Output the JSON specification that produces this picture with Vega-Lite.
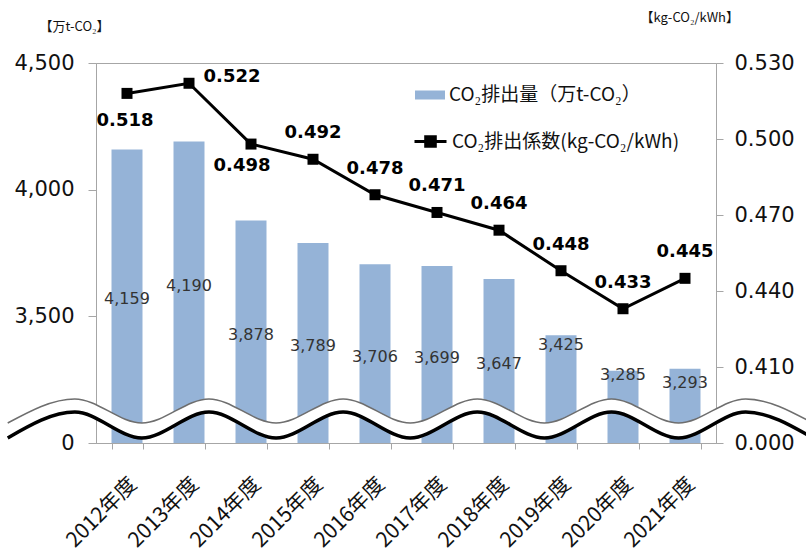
{
  "$schema": "https://vega.github.io/schema/vega-lite/v6.json",
  "width": 620,
  "height": 380,
  "autosize": {"type": "none"},
  "padding": {"left": 96, "top": 63, "right": 90, "bottom": 110},
  "background": "white",
  "config": {
    "view": {"stroke": "#a6a6a6", "strokeWidth": 1},
    "font": "DejaVu Sans",
    "axis": {"domainColor": "#a6a6a6", "tickColor": "#a6a6a6", "labelColor": "#111111", "grid": false, "titleColor": "#111111"}
  },
  "datasets": {
    "main": [
      {"year": "2012年度", "emission": 4159, "factor": 0.518},
      {"year": "2013年度", "emission": 4190, "factor": 0.522},
      {"year": "2014年度", "emission": 3878, "factor": 0.498},
      {"year": "2015年度", "emission": 3789, "factor": 0.492},
      {"year": "2016年度", "emission": 3706, "factor": 0.478},
      {"year": "2017年度", "emission": 3699, "factor": 0.471},
      {"year": "2018年度", "emission": 3647, "factor": 0.464},
      {"year": "2019年度", "emission": 3425, "factor": 0.448},
      {"year": "2020年度", "emission": 3285, "factor": 0.433},
      {"year": "2021年度", "emission": 3293, "factor": 0.445}
    ],
    "wave": [
      {"wx": -1.424, "top": 3079, "bottom": 3020},
      {"wx": -0.342, "top": 3174, "bottom": 3122},
      {"wx": 0.74, "top": 3079, "bottom": 3020},
      {"wx": 1.822, "top": 3174, "bottom": 3122},
      {"wx": 2.904, "top": 3079, "bottom": 3020},
      {"wx": 3.986, "top": 3174, "bottom": 3122},
      {"wx": 5.068, "top": 3079, "bottom": 3020},
      {"wx": 6.15, "top": 3174, "bottom": 3122},
      {"wx": 7.232, "top": 3079, "bottom": 3020},
      {"wx": 8.314, "top": 3174, "bottom": 3122},
      {"wx": 9.396, "top": 3079, "bottom": 3020},
      {"wx": 10.478, "top": 3174, "bottom": 3122},
      {"wx": 11.56, "top": 3079, "bottom": 3020}
    ]
  },
  "layer": [
    {
      "data": {"name": "main"},
      "encoding": {
        "x": {
          "field": "year", "type": "nominal", "sort": null,
          "scale": {"type": "band", "paddingInner": 0.5, "paddingOuter": 0.25},
          "axis": {"title": null, "labelAngle": -45, "labelAlign": "right", "labelBaseline": "middle", "labelFont": "Noto Sans CJK JP", "labelFontSize": 21, "tickBand": "extent", "tickSize": 6, "labelPadding": 32, "labelOffset": 6}
        }
      },
      "layer": [
        {
          "encoding": {
            "y": {
              "field": "emission", "type": "quantitative",
              "scale": {"domain": [3000, 4500], "nice": false, "zero": false},
              "axis": {
                "orient": "left", "values": [3000, 3500, 4000, 4500],
                "labelExpr": "datum.value == 3000 ? '0' : format(datum.value, ',')",
                "labelFontSize": 21, "tickSize": 8, "labelPadding": 14,
                "title": "【万t-CO₂】", "titleAngle": 0, "titleAlign": "left", "titleBaseline": "middle",
                "titleX": -57, "titleY": -37, "titleFont": "Noto Sans CJK JP", "titleFontSize": 13, "titleFontWeight": "normal"
              }
            }
          },
          "layer": [
            {
              "mark": {"type": "bar"},
              "encoding": {
                "y2": {"datum": 3000},
                "color": {
                  "datum": "CO₂排出量（万t-CO₂）",
                  "scale": {"range": ["#95b3d7"]},
                  "legend": {
                    "orient": "none", "legendX": 319, "legendY": 17, "title": null, "padding": 0,
                    "symbolType": "M-1,-0.3H1V0.3H-1Z", "symbolSize": 900, "symbolStrokeWidth": 0,
                    "labelFont": "Noto Sans CJK JP", "labelFontSize": 19, "labelOffset": 4, "labelColor": "#111111", "labelLimit": 500
                  }
                }
              }
            },
            {
              "transform": [
                {"calculate": "datum.year == '2013年度' ? (datum.emission + 3050) / 2 : datum.year == '2020年度' ? datum.emission - 17 : datum.year == '2021年度' ? datum.emission - 56 : datum.emission >= 3500 ? (datum.emission + 2975) / 2 : datum.emission - 38", "as": "ly"}
              ],
              "mark": {"type": "text", "fontSize": 16, "color": "#333333", "baseline": "middle", "align": "center"},
              "encoding": {
                "y": {"field": "ly", "type": "quantitative"},
                "text": {"field": "emission", "type": "quantitative", "format": ","}
              }
            }
          ]
        },
        {
          "encoding": {
            "y": {
              "field": "factor", "type": "quantitative",
              "scale": {"domain": [0.38, 0.53], "nice": false, "zero": false},
              "axis": {
                "orient": "right", "values": [0.38, 0.41, 0.44, 0.47, 0.5, 0.53],
                "labelExpr": "datum.value < 0.39 ? '0.000' : format(datum.value, '.3f')",
                "labelFontSize": 21, "tickSize": 7, "labelPadding": 11,
                "title": "【kg-CO₂/kWh】", "titleAngle": 0, "titleAlign": "left", "titleBaseline": "middle",
                "titleX": -76, "titleY": -46, "titleFont": "Noto Sans CJK JP", "titleFontSize": 13, "titleFontWeight": "normal"
              }
            }
          },
          "layer": [
            {
              "mark": {"type": "line", "strokeWidth": 3},
              "encoding": {
                "stroke": {
                  "datum": "CO₂排出係数(kg-CO₂/kWh)",
                  "scale": {"range": ["#000000"]},
                  "legend": {
                    "orient": "none", "legendX": 317, "legendY": 61, "title": null, "padding": 0,
                    "symbolType": "M-1,0H1M-0.3,-0.3H0.3V0.3H-0.3Z", "symbolSize": 1024, "symbolStrokeWidth": 3,
                    "labelFont": "Noto Sans CJK JP", "labelFontSize": 19, "labelOffset": 4, "labelColor": "#111111", "labelLimit": 500,
                    "encode": {"symbols": {"update": {"fill": {"value": "#000000"}, "stroke": {"value": "#000000"}}}}
                  }
                }
              }
            },
            {
              "mark": {"type": "point", "shape": "square", "filled": true, "size": 121, "color": "#000000", "opacity": 1}
            },
            {
              "transform": [{"filter": "datum.year != '2012年度' && datum.year != '2013年度' && datum.year != '2014年度'"}],
              "mark": {"type": "text", "font": "DejaVu Sans", "fontWeight": "bold", "fontSize": 18, "color": "#000000", "dy": -26, "baseline": "middle"},
              "encoding": {"text": {"field": "factor", "type": "quantitative", "format": ".3f"}}
            },
            {
              "transform": [{"filter": "datum.year == '2012年度'"}],
              "mark": {"type": "text", "font": "DejaVu Sans", "fontWeight": "bold", "fontSize": 18, "color": "#000000", "dy": 28, "dx": -2, "baseline": "middle"},
              "encoding": {"text": {"field": "factor", "type": "quantitative", "format": ".3f"}}
            },
            {
              "transform": [{"filter": "datum.year == '2013年度'"}],
              "mark": {"type": "text", "font": "DejaVu Sans", "fontWeight": "bold", "fontSize": 18, "color": "#000000", "dy": -6, "dx": 43, "baseline": "middle"},
              "encoding": {"text": {"field": "factor", "type": "quantitative", "format": ".3f"}}
            },
            {
              "transform": [{"filter": "datum.year == '2014年度'"}],
              "mark": {"type": "text", "font": "DejaVu Sans", "fontWeight": "bold", "fontSize": 18, "color": "#000000", "dy": 22, "dx": -9, "baseline": "middle"},
              "encoding": {"text": {"field": "factor", "type": "quantitative", "format": ".3f"}}
            }
          ]
        }
      ],
      "resolve": {"scale": {"y": "independent"}}
    },
    {
      "data": {"name": "wave"},
      "encoding": {
        "x": {"field": "wx", "type": "quantitative", "scale": {"domain": [0, 10], "nice": false, "zero": false}, "axis": null}
      },
      "layer": [
        {
          "mark": {"type": "area", "interpolate": "monotone", "color": "#ffffff", "opacity": 1, "clip": false},
          "encoding": {
            "y": {"field": "top", "type": "quantitative", "scale": {"domain": [3000, 4500], "nice": false, "zero": false}, "axis": null},
            "y2": {"field": "bottom"}
          }
        },
        {
          "mark": {"type": "line", "interpolate": "monotone", "color": "#6e6e6e", "strokeWidth": 1.5, "clip": false},
          "encoding": {"y": {"field": "top", "type": "quantitative"}}
        },
        {
          "mark": {"type": "line", "interpolate": "monotone", "color": "#000000", "strokeWidth": 3.5, "clip": false},
          "encoding": {"y": {"field": "bottom", "type": "quantitative"}}
        }
      ]
    }
  ],
  "resolve": {"scale": {"x": "independent", "y": "independent"}}
}
